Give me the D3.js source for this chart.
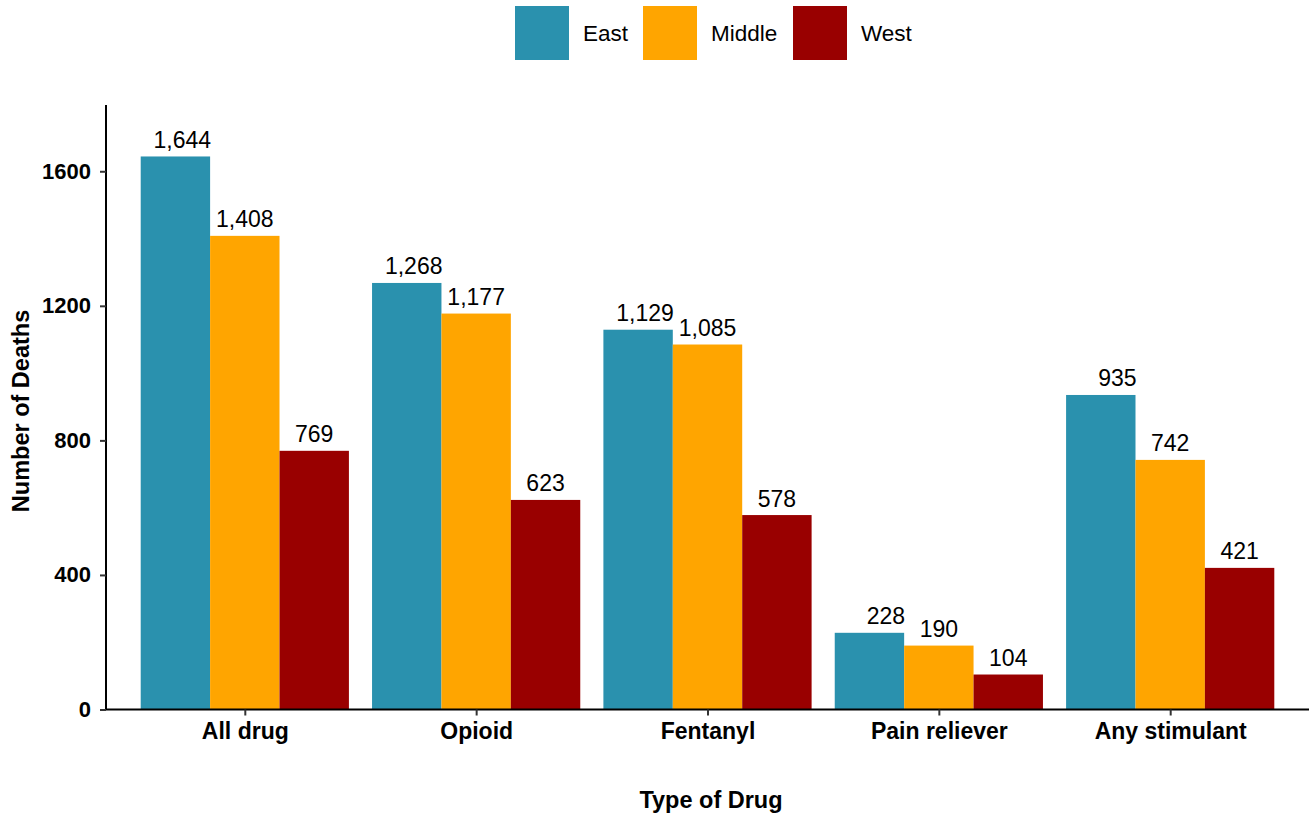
<!DOCTYPE html>
<html><head><meta charset="utf-8">
<script src="https://cdn.jsdelivr.net/npm/d3@7"></script>
<style>body{margin:0;background:#fff;} svg{display:block;font-family:"Liberation Sans",Arial,sans-serif;}</style>
</head><body>
<script>
const categories = ["All drug","Opioid","Fentanyl","Pain reliever","Any stimulant"];
const regions = ["East","Middle","West"];
const east = [1644,1268,1129,228,935];
const middle = [1408,1177,1085,190,742];
const west = [769,623,578,104,421];
const yTicks = [0,400,800,1200,1600];
const colors = ["#2A91AE","#FFA500","#990000"];
const labelAnchor = ["end","middle","middle"]; // per-region label alignment

const W=1309,H=818;
const m={left:106,right:0,top:105,bottom:108.5};
const svg=d3.select("body").append("svg").attr("width",W).attr("height",H);
const series=[east,middle,west];
const data=categories.map((c,i)=>({cat:c,vals:regions.map((r,j)=>({region:r,idx:j,value:series[j][i]}))}));

// ggplot-like: expand 0.6 units each side, bar width 0.9
const unit=(W-m.right-m.left)/5.2;
const xc=d3.scalePoint().domain(categories).range([m.left+0.6*unit,W-m.right-0.6*unit]);
const xi=d3.scaleBand().domain(regions).range([-0.45*unit,0.45*unit]);
const y=d3.scaleLinear().domain([0,1797]).range([H-m.bottom,m.top]);

const g=svg.append("g");
const grp=g.selectAll("g.grp").data(data).join("g").attr("transform",d=>`translate(${xc(d.cat)},0)`);
grp.selectAll("rect").data(d=>d.vals).join("rect")
  .attr("x",d=>xi(d.region)).attr("width",xi.bandwidth())
  .attr("y",d=>y(d.value)).attr("height",d=>y(0)-y(d.value))
  .attr("fill",d=>colors[d.idx]);
grp.selectAll("text").data(d=>d.vals).join("text")
  .attr("x",d=>labelAnchor[d.idx]==="end"?xi(d.region)+xi.bandwidth()+1:xi(d.region)+xi.bandwidth()/2)
  .attr("y",d=>y(d.value)-8.5)
  .attr("text-anchor",d=>labelAnchor[d.idx]).attr("font-size",23).attr("fill","#000")
  .text(d=>d3.format(",")(d.value));

// axes
const yAxis=svg.append("g").attr("transform",`translate(${m.left},0)`)
  .call(d3.axisLeft(y).tickValues(yTicks).tickSize(6).tickPadding(9).tickFormat(d3.format("d")));
yAxis.select(".domain").attr("stroke","#000").attr("stroke-width",2).attr("d",`M0,${m.top}V${y(0)}`);
yAxis.selectAll(".tick line").attr("stroke","#333").attr("stroke-width",2);
yAxis.selectAll(".tick text").attr("font-size",22).attr("font-weight","bold").attr("fill","#000").attr("font-family","Liberation Sans, Arial, sans-serif");

const xAxis=svg.append("g").attr("transform",`translate(0,${y(0)})`)
  .call(d3.axisBottom(xc).tickSize(6).tickPadding(7));
xAxis.select(".domain").attr("stroke","#000").attr("stroke-width",2).attr("d",`M${m.left},0H${W}`);
xAxis.selectAll(".tick line").attr("stroke","#333").attr("stroke-width",2);
xAxis.selectAll(".tick text").attr("font-size",23).attr("font-weight","bold").attr("fill","#000").attr("font-family","Liberation Sans, Arial, sans-serif");

svg.append("text").attr("x",711).attr("y",808)
  .attr("text-anchor","middle").attr("font-size",23.5).attr("font-weight","bold").text("Type of Drug");
svg.append("text").attr("transform",`translate(29,411) rotate(-90)`)
  .attr("text-anchor","middle").attr("font-size",23.5).attr("font-weight","bold").text("Number of Deaths");

// legend
const legX=[515,643,793];
const leg=svg.append("g");
regions.forEach((r,i)=>{
  leg.append("rect").attr("x",legX[i]).attr("y",6).attr("width",54).attr("height",54).attr("fill",colors[i]);
  leg.append("text").attr("x",legX[i]+68).attr("y",41).attr("font-size",22.5).attr("fill","#000").text(r);
});
</script>
</body></html>
